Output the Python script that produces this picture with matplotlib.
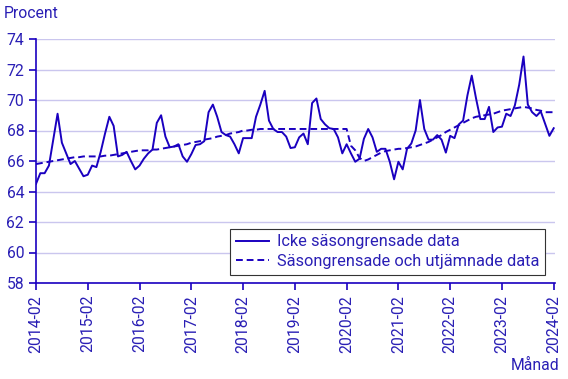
import matplotlib
matplotlib.use("Agg")
import matplotlib.pyplot as plt

matplotlib.rcParams["font.family"] = ["Roboto", "DejaVu Sans"]

# monthly values, 2014-02 .. 2024-02
tick_labels = ["2014-02", "2015-02", "2016-02", "2017-02", "2018-02", "2019-02",
               "2020-02", "2021-02", "2022-02", "2023-02", "2024-02"]

raw = [
    64.5, 65.2, 65.2, 65.7, 67.4, 69.1, 67.2, 66.5, 65.8, 66.0, 65.5, 65.0,
    65.1, 65.7, 65.6, 66.6, 67.8, 68.9, 68.3, 66.3, 66.4, 66.6, 66.0, 65.45,
    65.7, 66.15, 66.5, 66.75, 68.5, 69.0, 67.6, 66.9, 66.95, 67.1, 66.3, 65.95,
    66.45, 67.05, 67.1, 67.3, 69.2, 69.7, 68.9, 67.9, 67.7, 67.6, 67.1, 66.5,
    67.5, 67.5, 67.5, 68.9, 69.7, 70.6, 68.65, 68.1, 67.9, 67.9, 67.6, 66.85,
    66.9, 67.55, 67.8, 67.1, 69.8, 70.1, 68.75, 68.4, 68.15, 68.1, 67.55, 66.5,
    67.1, 66.5, 65.95, 66.15, 67.45, 68.1, 67.55, 66.6, 66.8, 66.8, 65.95, 64.8,
    65.95, 65.45, 66.8, 67.15, 68.0, 70.0, 68.1, 67.4, 67.4, 67.7, 67.4, 66.55,
    67.65, 67.5, 68.4, 68.65, 70.3, 71.6, 70.1, 68.75, 68.75, 69.55, 67.9, 68.2,
    68.25, 69.1, 68.95, 69.65, 71.0, 72.85, 69.7, 69.2, 68.95, 69.25, 68.45, 67.65,
    68.15,
]

trend = [
    65.8, 65.85, 65.9, 65.95, 66.0, 66.05, 66.1, 66.15, 66.2, 66.25, 66.25, 66.3,
    66.3, 66.3, 66.3, 66.3, 66.35, 66.35, 66.4, 66.45, 66.5, 66.55, 66.6, 66.65,
    66.7, 66.7, 66.7, 66.75, 66.75, 66.8, 66.85, 66.9, 66.95, 67.0, 67.05, 67.1,
    67.2, 67.25, 67.3, 67.4, 67.45, 67.5, 67.6, 67.65, 67.7, 67.8, 67.85, 67.9,
    68.0, 68.0, 68.05, 68.05, 68.1, 68.1, 68.1, 68.1, 68.1, 68.1, 68.1, 68.1,
    68.1, 68.1, 68.1, 68.1, 68.1, 68.1, 68.1, 68.1, 68.1, 68.1, 68.1, 68.1,
    68.1, 67.0, 66.7, 66.2, 66.0, 66.1, 66.25, 66.4, 66.55, 66.65, 66.7, 66.75,
    66.8, 66.8, 66.85, 66.9, 66.95, 67.05, 67.15, 67.25, 67.4, 67.55, 67.7, 67.9,
    68.05, 68.2, 68.35, 68.5, 68.65, 68.8, 68.9, 68.95, 69.0, 69.05, 69.1, 69.2,
    69.3, 69.35, 69.4, 69.45, 69.5, 69.55, 69.5, 69.45, 69.35, 69.3, 69.2, 69.2,
    69.2,
]

months = list(range(len(raw)))
blue = "#1a00c0"
text_blue = "#2a1fb5"
grid_col = "#cac6ee"
fs = 11.3

fig = plt.figure(figsize=(5.68, 3.79), dpi=100)
ax = fig.add_axes([36 / 568, 1 - 283 / 379, 519 / 568, 244 / 379])

ax.plot(months, raw, color=blue, lw=1.4, label="Icke säsongrensade data")
ax.plot(months, trend, color=blue, lw=1.4, dashes=(3.5, 2),
        label="Säsongrensade och utjämnade data")

ax.set_ylim(58, 74)
ax.set_xlim(0, 120.3)
ax.set_yticks(range(58, 75, 2))
ax.set_xticks(range(0, 121, 12))
ax.set_xticklabels(tick_labels, rotation=90)
ax.grid(axis="y", color=grid_col, lw=1)
ax.set_axisbelow(True)

for s in ["top", "right"]:
    ax.spines[s].set_visible(False)
for s in ["left", "bottom"]:
    ax.spines[s].set_color(blue)
    ax.spines[s].set_linewidth(1.2)
ax.tick_params(colors=blue, labelcolor=text_blue, labelsize=fs, length=5, width=1.2)

fig.text(4 / 568, 1 - 14 / 379, "Procent", color=text_blue, fontsize=fs, va="center", ha="left")
fig.text(559 / 568, 1 - 366 / 379, "Månad", color=text_blue, fontsize=fs, va="center", ha="right")

leg = ax.legend(loc="lower right", bbox_to_anchor=(0.981, 0.033), borderaxespad=0,
                fontsize=11.8, handlelength=2.0, handletextpad=0.5, fancybox=False,
                framealpha=1, edgecolor="#333333", labelspacing=0.3, borderpad=0.35)
leg.get_frame().set_linewidth(0.8)
for t in leg.get_texts():
    t.set_color(text_blue)

fig.savefig("out.png", dpi=100)
